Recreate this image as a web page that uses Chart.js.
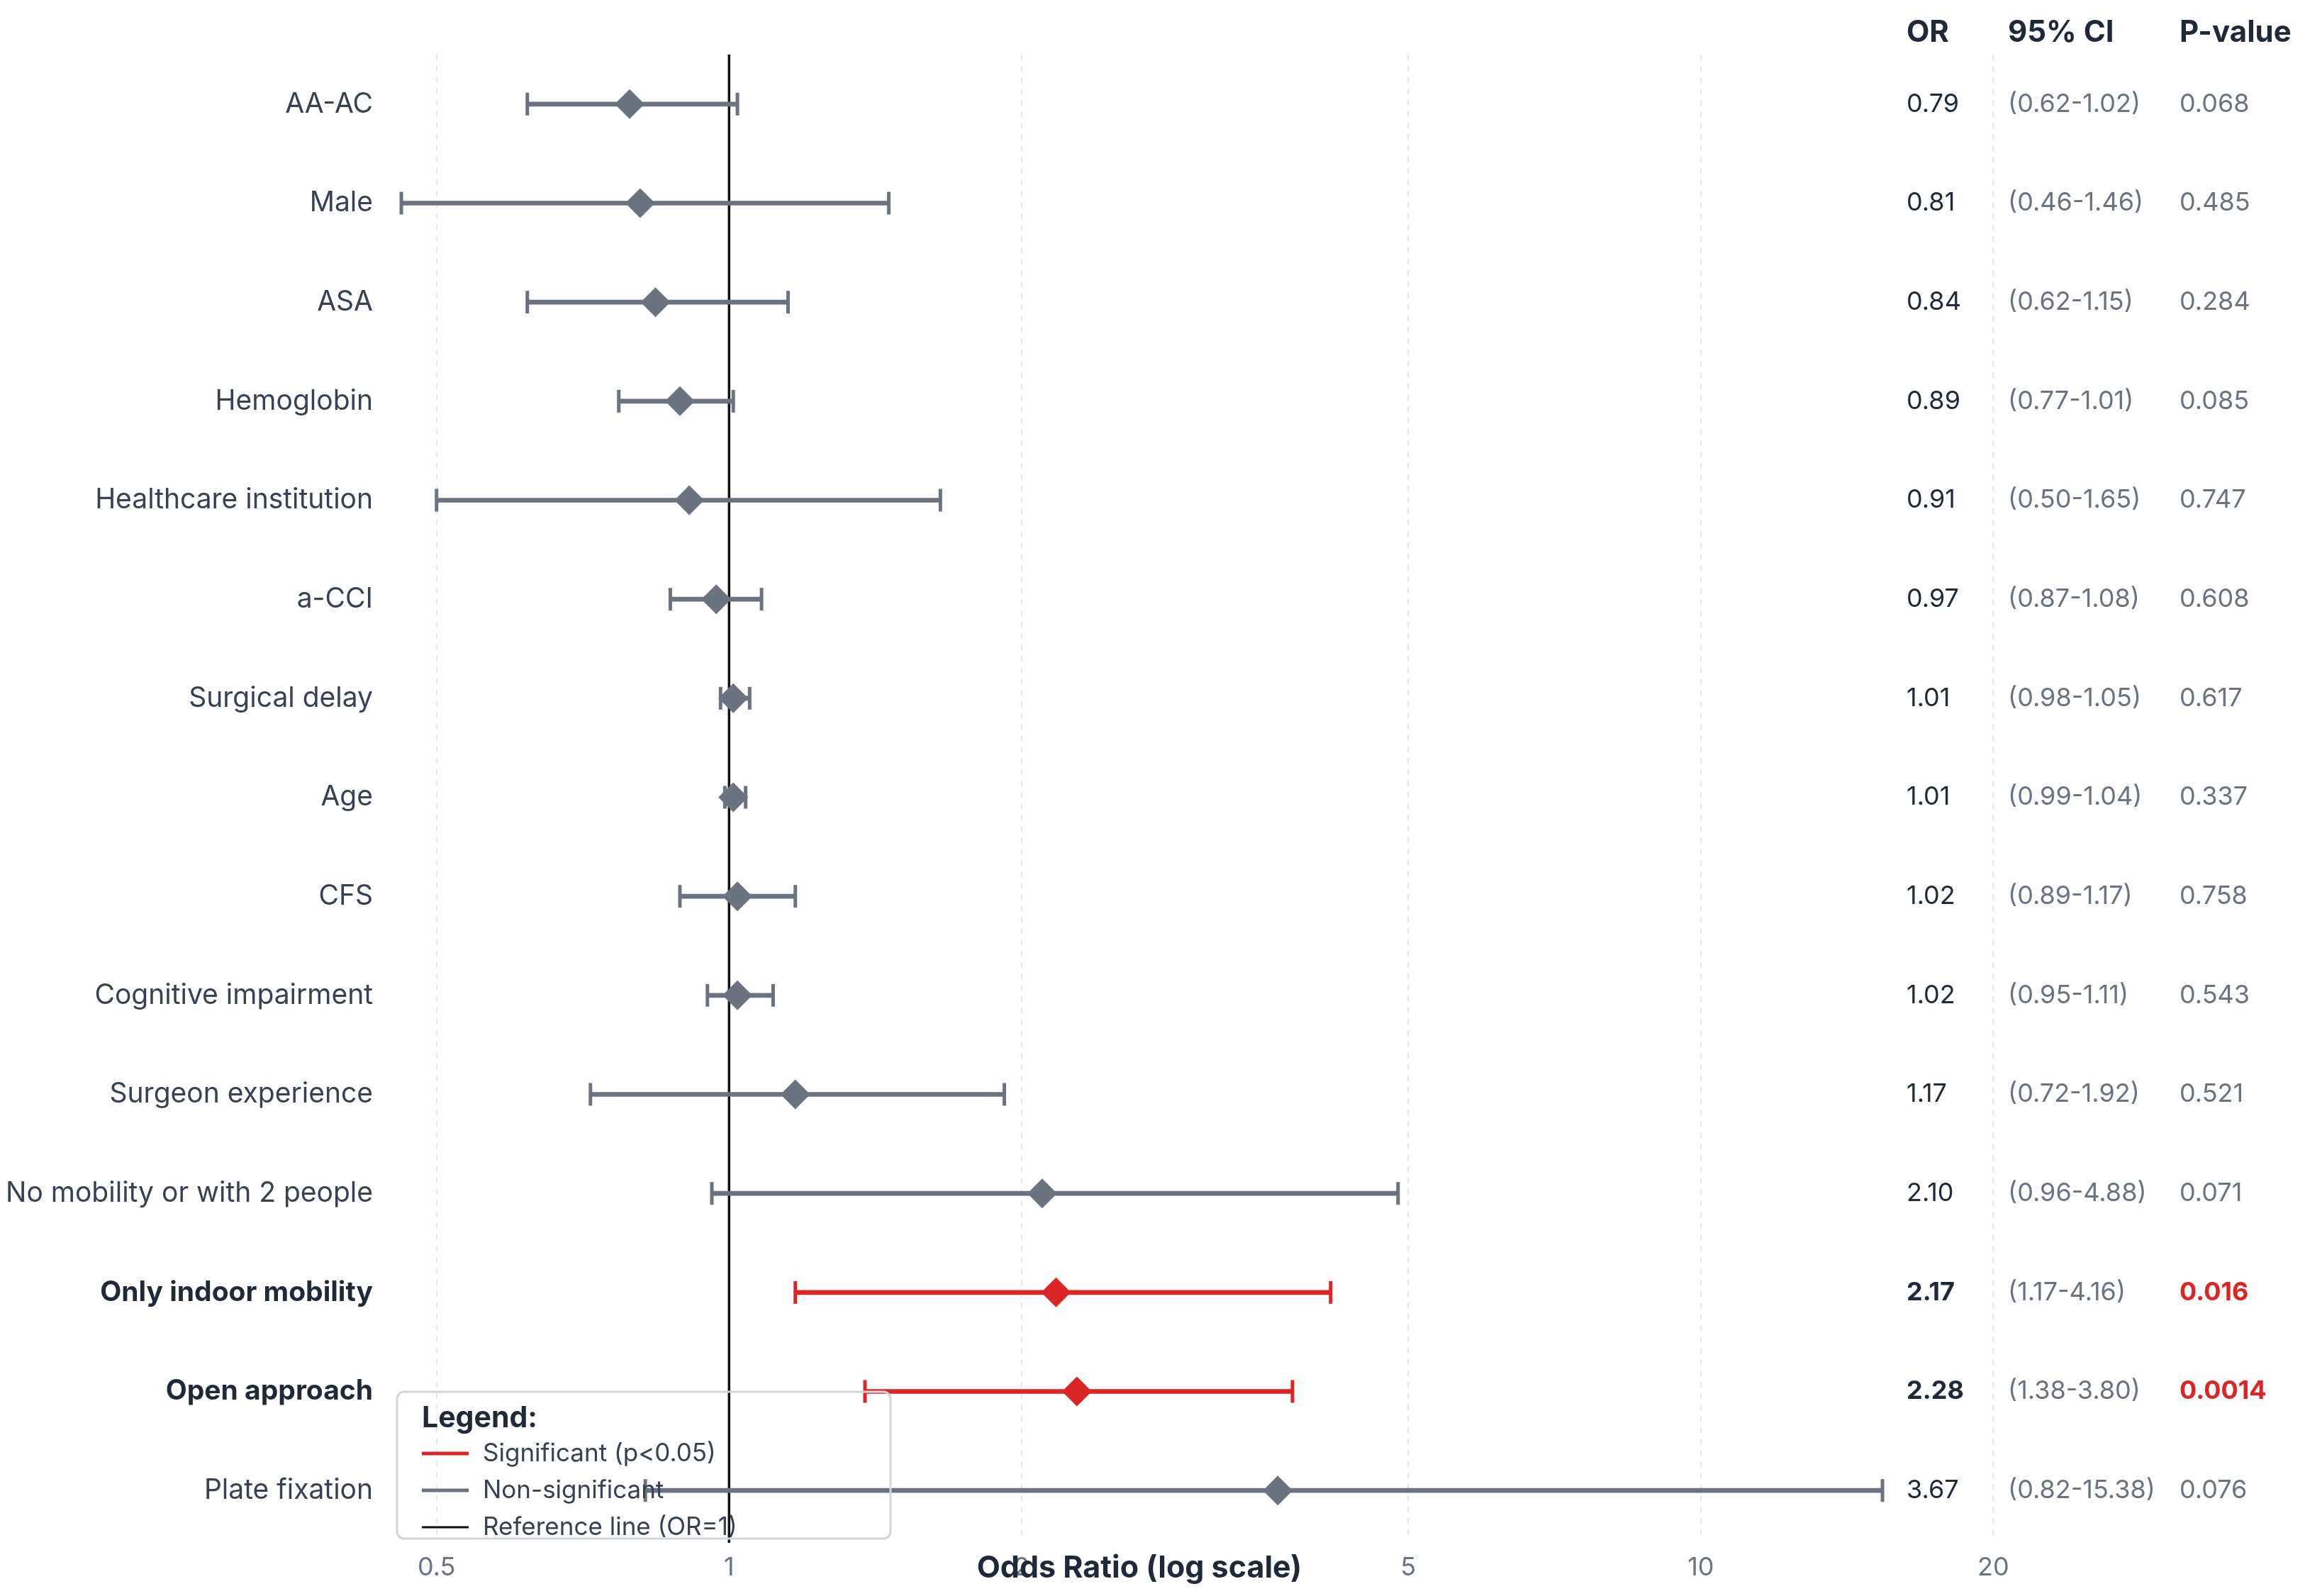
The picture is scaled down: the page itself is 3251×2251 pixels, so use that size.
<!DOCTYPE html>
<html>
<head>
<meta charset="utf-8">
<script src="https://cdn.jsdelivr.net/npm/chart.js@4.4.1/dist/chart.umd.min.js"></script>
<style>
  html, body { margin: 0; padding: 0; background: #fff; }
  #forest { display: block; }
</style>
</head>
<body>
<canvas id="forest" width="3251" height="2251"></canvas>
<script>
const labels = ['AA-AC', 'Male', 'ASA', 'Hemoglobin', 'Healthcare institution', 'a-CCI',
  'Surgical delay', 'Age', 'CFS', 'Cognitive impairment', 'Surgeon experience',
  'No mobility or with 2 people', 'Only indoor mobility', 'Open approach', 'Plate fixation']
const oddsRatios = [0.79, 0.81, 0.84, 0.89, 0.91, 0.97, 1.01, 1.01, 1.02, 1.02, 1.17, 2.10, 2.17, 2.28, 3.67]
const ciLow = [0.62, 0.46, 0.62, 0.77, 0.50, 0.87, 0.98, 0.99, 0.89, 0.95, 0.72, 0.96, 1.17, 1.38, 0.82]
const ciHigh = [1.02, 1.46, 1.15, 1.01, 1.65, 1.08, 1.05, 1.04, 1.17, 1.11, 1.92, 4.88, 4.16, 3.80, 15.38]
const pValues = [0.068, 0.485, 0.284, 0.085, 0.747, 0.608, 0.617, 0.337, 0.758, 0.543, 0.521, 0.071, 0.016, 0.0014, 0.076]
const xTicks = [0.5, 1, 2, 5, 10, 20]

const RED = '#dc2626'
const GREY = '#6b7280'
const DARK = '#1f2937'
const TEXT = '#374151'
const FONT = 'Inter, "Noto Sans", sans-serif'

const significant = pValues.map(p => p < 0.05)
const rowColor = significant.map(s => s ? RED : GREY)

// table, legend, reference line and axis title
const forestExtras = {
  id: 'forestExtras',
  beforeDatasetsDraw(chart) {
    const {ctx, chartArea, scales} = chart
    const x1 = scales.x.getPixelForValue(1)
    ctx.save()
    ctx.strokeStyle = '#111111'
    ctx.lineWidth = 3.5
    ctx.beginPath()
    ctx.moveTo(x1, chartArea.top)
    ctx.lineTo(x1, chartArea.bottom + 4)
    ctx.stroke()
    ctx.restore()
  },
  afterDraw(chart) {
    const {ctx, chartArea, scales} = chart
    const colOR = 2689, colCI = 2832, colP = 3074
    ctx.save()
    ctx.textBaseline = 'middle'
    ctx.textAlign = 'left'

    ctx.fillStyle = DARK
    ctx.font = 'bold 42px ' + FONT
    ctx.fillText('OR', colOR, 46)
    ctx.fillText('95% CI', colCI, 46)
    ctx.fillText('P-value', colP, 46)

    labels.forEach((lab, i) => {
      const y = scales.y.getPixelForValue(i)
      ctx.font = (significant[i] ? 'bold ' : '') + '36px ' + FONT
      ctx.fillStyle = DARK
      ctx.fillText(oddsRatios[i].toFixed(2), colOR, y)
      ctx.font = '36px ' + FONT
      ctx.fillStyle = GREY
      ctx.fillText('(' + ciLow[i].toFixed(2) + '-' + ciHigh[i].toFixed(2) + ')', colCI, y)
      ctx.font = (significant[i] ? 'bold ' : '') + '36px ' + FONT
      ctx.fillStyle = significant[i] ? RED : GREY
      ctx.fillText(String(pValues[i]), colP, y)
    })

    // axis title, sits on the tick label row
    ctx.textAlign = 'center'
    ctx.fillStyle = DARK
    ctx.font = 'bold 43px ' + FONT
    ctx.fillText('Odds Ratio (log scale)', 1607, 2212)

    // legend box
    const bx = chartArea.left + 7, by = 1963, bw = 696, bh = 207
    ctx.strokeStyle = '#d1d5db'
    ctx.lineWidth = 3
    ctx.beginPath()
    ctx.roundRect(bx, by, bw, bh, 10)
    ctx.stroke()

    ctx.textAlign = 'left'
    ctx.fillStyle = DARK
    ctx.font = 'bold 41px ' + FONT
    ctx.fillText('Legend:', bx + 35, by + 38)

    const items = [
      ['Significant (p<0.05)', RED, 5],
      ['Non-significant', GREY, 5],
      ['Reference line (OR=1)', '#111111', 3]
    ]
    items.forEach((it, k) => {
      const y = by + 87 + k * 52
      ctx.strokeStyle = it[1]
      ctx.lineWidth = it[2]
      ctx.beginPath()
      ctx.moveTo(bx + 35, y)
      ctx.lineTo(bx + 101, y)
      ctx.stroke()
      ctx.fillStyle = TEXT
      ctx.font = '35px ' + FONT
      ctx.fillText(it[0], bx + 121, y)
    })
    ctx.restore()
  }
}

const ctx = document.getElementById('forest').getContext('2d')
const forestChart = new Chart(ctx, {
  type: 'bar',
  data: {
    labels: labels,
    datasets: [
      {
        label: 'CI',
        data: labels.map((l, i) => [ciLow[i], ciHigh[i]]),
        backgroundColor: rowColor,
        borderWidth: 0,
        barThickness: 6,
        order: 3
      },
      {
        type: 'scatter',
        label: 'CI caps',
        data: labels.map((l, i) => ({x: ciLow[i], y: l}))
          .concat(labels.map((l, i) => ({x: ciHigh[i], y: l}))),
        pointStyle: 'line',
        rotation: 90,
        pointRadius: 16,
        borderWidth: 5,
        borderColor: rowColor.concat(rowColor),
        order: 2
      },
      {
        type: 'scatter',
        label: 'OR',
        data: labels.map((l, i) => ({x: oddsRatios[i], y: l})),
        pointStyle: 'rectRot',
        pointRadius: 21,
        borderWidth: 0,
        backgroundColor: rowColor,
        order: 1
      }
    ]
  },
  options: {
    indexAxis: 'y',
    responsive: false,
    devicePixelRatio: 1,
    animation: false,
    layout: {
      padding: {top: 77, right: 27, left: 0, bottom: 0}
    },
    scales: {
      x: {
        type: 'logarithmic',
        min: 0.45,
        max: 40,
        afterBuildTicks: scale => {
          scale.ticks = xTicks.map(v => ({value: v}))
        },
        afterFit: scale => { scale.height = 79 },
        ticks: {
          color: GREY,
          font: {family: FONT, size: 36},
          padding: 18,
          maxRotation: 0,
          autoSkip: false,
          callback: v => String(v)
        },
        grid: {
          color: '#e5e7eb',
          lineWidth: 2,
          drawTicks: false
        },
        border: {display: false, dash: [8, 8]}
      },
      y: {
        type: 'category',
        afterFit: scale => { scale.width = 553 },
        ticks: {
          padding: 27,
          color: ctx => significant[ctx.index] ? DARK : TEXT,
          font: ctx => ({family: FONT, size: 39, weight: significant[ctx.index] ? 'bold' : 'normal'})
        },
        grid: {display: false, drawTicks: false},
        border: {display: false}
      }
    },
    plugins: {
      legend: {display: false},
      tooltip: {enabled: false}
    }
  },
  plugins: [forestExtras]
})
</script>
</body>
</html>
